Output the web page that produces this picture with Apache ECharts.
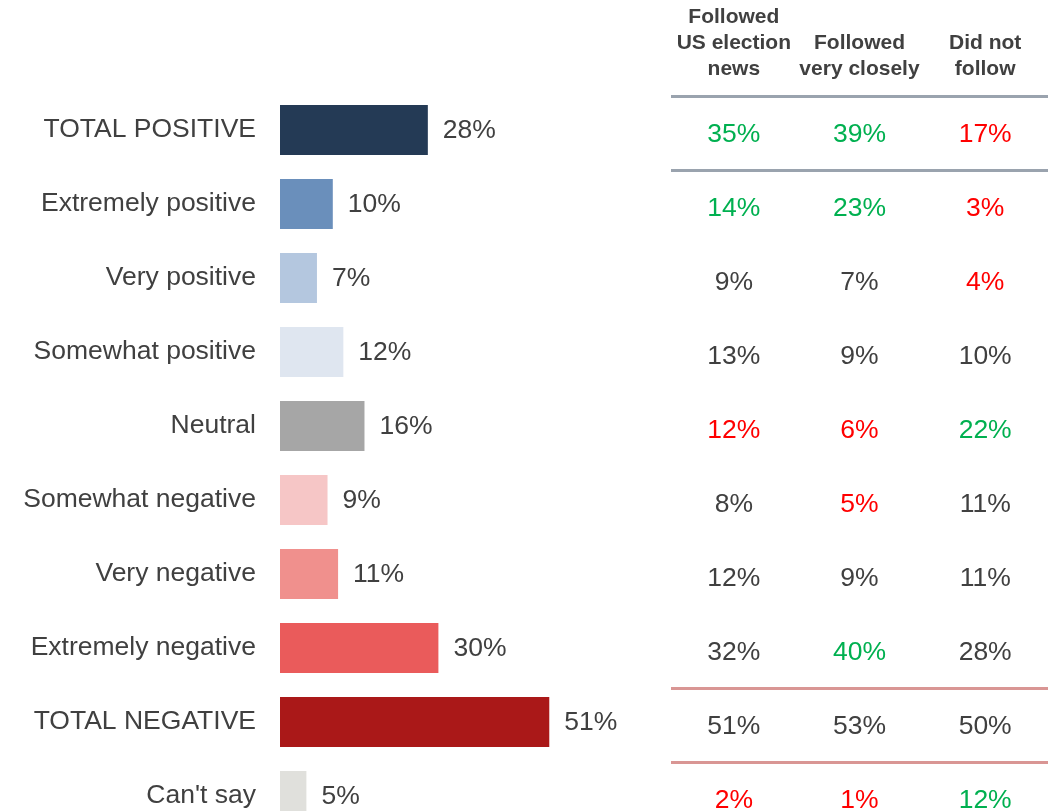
<!DOCTYPE html>
<html>
<head>
<meta charset="utf-8">
<script src="https://cdn.jsdelivr.net/npm/echarts@6/dist/echarts.min.js"></script>
<style>
  html, body { margin: 0; padding: 0; background: #fff; overflow: hidden; }
  /* taller than the window: the last row is cut off at the bottom like the original */
  #chart { width: 1053px; height: 860px; }
</style>
</head>
<body>
<div id="chart"></div>
<script>
// rows of the chart, top to bottom
const categories = [
  'TOTAL POSITIVE', 'Extremely positive', 'Very positive', 'Somewhat positive',
  'Neutral', 'Somewhat negative', 'Very negative', 'Extremely negative',
  'TOTAL NEGATIVE', "Can't say"
];
const totalValues = [28, 10, 7, 12, 16, 9, 11, 30, 51, 5];

// comparison table columns
const tableHeaders = ['Followed\nUS election\nnews', 'Followed\nvery closely', 'Did not\nfollow'];
const followedNews = [35, 14, 9, 13, 12, 8, 12, 32, 51, 2];
const followedClosely = [39, 23, 7, 9, 6, 5, 9, 40, 53, 1];
const didNotFollow = [17, 3, 4, 10, 22, 11, 11, 28, 50, 12];
// significance vs total: '+' higher, '-' lower, '' no difference
const followedNewsSig = ['+', '+', '', '', '-', '', '', '', '', '-'];
const followedCloselySig = ['+', '+', '', '', '-', '-', '', '+', '', '-'];
const didNotFollowSig = ['-', '-', '-', '', '+', '', '', '', '', '+'];

const barColors = ['#243a55', '#6a8fbb', '#b4c7df', '#dfe6f0', '#a6a6a6',
  '#f6c6c6', '#f0908d', '#ea5b5b', '#aa1818', '#e0e0dc'];
const sigColors = { '+': '#00b050', '-': '#ff0000', '': '#404040' };
const textColor = '#404040';
const font = '"Liberation Sans", Arial, sans-serif';

const chart = echarts.init(document.getElementById('chart'), null, { renderer: 'canvas' });

// build table cells from the columns
const columns = [
  [followedNews, followedNewsSig],
  [followedClosely, followedCloselySig],
  [didNotFollow, didNotFollowSig]
];
const tableCells = [];
columns.forEach(([vals, sig], c) => {
  vals.forEach((v, r) => {
    tableCells.push({
      value: [c, r, v],
      label: { color: sigColors[sig[r]] }
    });
  });
});

const option = {
  animation: false,
  backgroundColor: '#fff',
  textStyle: { fontFamily: font },
  grid: [
    { left: 280, top: 93, width: 528, height: 740 },
    { left: 671, top: 96, width: 377, height: 740 }
  ],
  xAxis: [
    { type: 'value', gridIndex: 0, min: 0, max: 100, show: false },
    {
      type: 'category', gridIndex: 1, position: 'top', data: tableHeaders,
      axisLine: { show: false }, axisTick: { show: false },
      axisLabel: {
        interval: 0, margin: 14, fontSize: 21, lineHeight: 26,
        fontWeight: 'bold', color: textColor, fontFamily: font
      }
    }
  ],
  yAxis: [
    {
      type: 'category', gridIndex: 0, inverse: true, data: categories,
      axisLine: { show: false }, axisTick: { show: false },
      axisLabel: { margin: 24, fontSize: 26.5, color: textColor, fontFamily: font }
    },
    { type: 'category', gridIndex: 1, inverse: true, data: categories, show: false },
    { type: 'value', gridIndex: 1, inverse: true, min: 0, max: 10, show: false }
  ],
  series: [
    {
      type: 'bar',
      xAxisIndex: 0, yAxisIndex: 0,
      barWidth: 50,
      data: totalValues.map((v, i) => ({ value: v, itemStyle: { color: barColors[i] } })),
      label: {
        show: true, position: 'right', distance: 15, offset: [0, 1],
        formatter: '{c}%', fontSize: 26.5, color: textColor, fontFamily: font
      }
    },
    {
      type: 'scatter',
      xAxisIndex: 1, yAxisIndex: 1,
      symbolSize: 0,
      itemStyle: { opacity: 1 },
      data: tableCells,
      label: {
        show: true, position: 'inside', offset: [0, 2], fontSize: 26.5, fontFamily: font,
        formatter: p => p.value[2] + '%'
      }
    },
    {
      // separator lines in the table
      type: 'line',
      xAxisIndex: 1, yAxisIndex: 2,
      data: [],
      markLine: {
        silent: true, symbol: 'none', label: { show: false },
        data: [
          { yAxis: 0, lineStyle: { color: '#9aa3ae', width: 3, type: 'solid' } },
          { yAxis: 1, lineStyle: { color: '#9aa3ae', width: 3, type: 'solid' } },
          { yAxis: 8, lineStyle: { color: '#d99694', width: 3, type: 'solid' } },
          { yAxis: 9, lineStyle: { color: '#d99694', width: 3, type: 'solid' } }
        ]
      }
    }
  ]
};

chart.setOption(option);
</script>
</body>
</html>
